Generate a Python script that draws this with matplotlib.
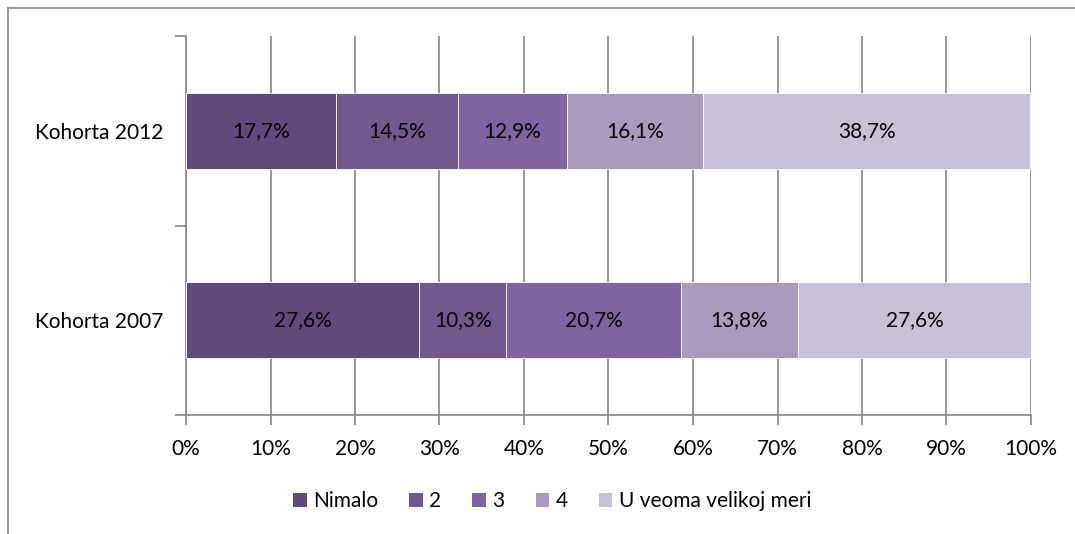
import numpy as np
import matplotlib.pyplot as plt
from matplotlib.lines import Line2D
from matplotlib.patches import Patch

plt.rcParams['font.family'] = ['Lato', 'DejaVu Sans']

# data
categories = ['Kohorta 2007', 'Kohorta 2012']
series = ['Nimalo', '2', '3', '4', 'U veoma velikoj meri']
values = np.array([
    [27.6, 10.3, 20.7, 13.8, 27.6],   # Kohorta 2007
    [17.7, 14.5, 12.9, 16.1, 38.7],   # Kohorta 2012
])
colors = ['#604A7B', '#71588F', '#8064A2', '#A99BBE', '#C8C0D6']
fs = 15

fig = plt.figure(figsize=(10.75, 5.34), dpi=100)
ax = fig.add_axes([186/1075, 1 - 415/534, (1031-186)/1075, (415-36)/534])

y = np.arange(len(categories))
left = np.zeros(len(categories))
for j, name in enumerate(series):
    ax.barh(y, values[:, j], left=left, height=0.4, color=colors[j],
            edgecolor='white', linewidth=0.6, label=name, zorder=3)
    for i in range(len(categories)):
        ax.text(left[i] + values[i, j] / 2, y[i],
                ('%.1f%%' % values[i, j]).replace('.', ','),
                ha='center', va='center', fontsize=fs, color='black', zorder=4)
    left += values[:, j]

ax.set_xlim(0, 100)
ax.set_ylim(-0.5, 1.5)
ax.set_xticks(np.arange(0, 101, 10))
ax.set_xticklabels(['%d%%' % v for v in range(0, 101, 10)], fontsize=fs)
ax.set_yticks([-0.5, 0.5, 1.5])
ax.set_yticklabels([])
ax.set_yticks(y, minor=True)
ax.set_yticklabels(categories, minor=True, fontsize=fs)
ax.tick_params(axis='y', which='minor', length=0, pad=16)
ax.tick_params(axis='y', which='major', length=8, color='#868686', width=1.2)
ax.tick_params(axis='x', length=7, color='#868686', width=1.2, pad=10)
ax.grid(axis='x', color='#868686', linewidth=1.2, zorder=0)
for s in ['top', 'right']:
    ax.spines[s].set_visible(False)
for s in ['left', 'bottom']:
    ax.spines[s].set_color('#868686')
    ax.spines[s].set_linewidth(1.2)

handles = [Patch(facecolor=c, edgecolor='none') for c in colors]
fig.legend(handles, series, loc='center', bbox_to_anchor=(552/1075, 1 - 501/534),
           ncol=5, frameon=False, fontsize=fs, handlelength=0.65, handleheight=0.65,
           handletextpad=0.3, columnspacing=1.5)

# outer chart frame
fig.add_artist(Line2D([8/1075, 8/1075], [0, 1 - 8/534], transform=fig.transFigure,
                      color='#868686', linewidth=1.2))
fig.add_artist(Line2D([8/1075, 1], [1 - 8/534, 1 - 8/534], transform=fig.transFigure,
                      color='#868686', linewidth=1.2))

fig.savefig('out.png', dpi=100)
